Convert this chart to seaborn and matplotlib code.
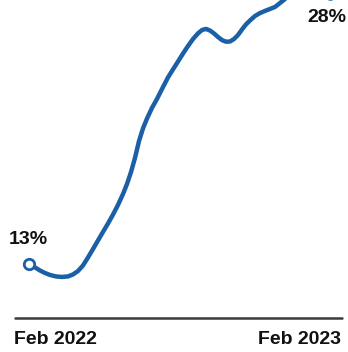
import matplotlib
matplotlib.use("Agg")
import matplotlib.pyplot as plt
import seaborn as sns
import pandas as pd

# Data (days since Feb 2022, share in %)
days = [0, 7.3, 13.3, 19.4, 25.5, 32.7, 40.0, 47.3, 53.4, 59.4, 65.5, 71.5, 77.6,
        83.7, 89.7, 95.8, 101.9, 107.9, 114.0, 118.8, 123.7, 128.5, 133.4, 138.2,
        143.1, 149.1, 155.2, 162.5, 168.5, 174.6, 180.7, 186.7, 192.8, 198.9, 204.9,
        209.8, 214.6, 219.5, 224.3, 229.2, 234.0, 238.9, 243.7, 248.6, 253.4, 258.3,
        263.1, 268.0, 274.1, 280.1, 286.2, 292.3, 298.3, 304.4, 310.4, 316.5, 328.6,
        346.8, 365]
share = [13.00, 12.81, 12.64, 12.50, 12.39, 12.31, 12.28, 12.31, 12.42, 12.61, 12.92,
         13.36, 13.83, 14.31, 14.78, 15.25, 15.75, 16.28, 16.89, 17.44, 18.11, 18.89,
         19.83, 20.53, 21.08, 21.67, 22.17, 22.83, 23.36, 23.81, 24.25, 24.69, 25.11,
         25.50, 25.81, 26.00, 26.06, 25.97, 25.81, 25.61, 25.44, 25.35, 25.36, 25.50,
         25.72, 26.03, 26.31, 26.53, 26.78, 26.94, 27.06, 27.17, 27.28, 27.50, 27.72,
         27.83, 27.92, 27.97, 28.00]
x_labels = ["Feb 2022", "Feb 2023"]
start_label = "13%"
end_label = "28%"
baseline = 10

df = pd.DataFrame({"day": days, "share": share})

sns.set_theme(style="white")
plt.rcParams['font.family'] = ['Liberation Sans', 'DejaVu Sans']

W, H = 348, 352
fig = plt.figure(figsize=(W / 100, H / 100), dpi=100)
ax = fig.add_axes([0, 0, 1, 1])

blue = "#1b5fa7"
sns.lineplot(data=df, x="day", y="share", ax=ax, color=blue, linewidth=3.2,
             solid_capstyle="round", solid_joinstyle="round")
ax.plot([days[0]], [share[0]], marker="o", markersize=7.5, markerfacecolor="white",
        markeredgecolor=blue, markeredgewidth=2.0, linestyle="none", zorder=5)
ax.plot([days[-1]], [share[-1]], marker="o", markersize=7.0, markerfacecolor="white",
        markeredgecolor=blue, markeredgewidth=2.0, linestyle="none", zorder=5)

# pixel mapping: x_px = 29 + day*0.8247 ; y_px = 264 - (v-13)*18
px_per_day = 301 / 365
ax.set_xlim(-29 / px_per_day, (W - 29) / px_per_day)
ax.set_ylim(13 - (H - 264) / 18, 13 + 264 / 18)

ax.axhline(baseline, xmin=15 / W, xmax=342 / W, color="#3c3c3c", linewidth=1.8)

for s in ax.spines.values():
    s.set_visible(False)
ax.set_xticks([])
ax.set_yticks([])
ax.set_xlabel("")
ax.set_ylabel("")

fs = 14
fig.text(14 / W, 1 - 339 / H, x_labels[0], ha="left", va="center", fontsize=fs,
         fontweight="bold", color="#111111")
fig.text(341 / W, 1 - 339 / H, x_labels[1], ha="right", va="center", fontsize=fs,
         fontweight="bold", color="#111111")
fig.text(9 / W, 1 - 239 / H, start_label, ha="left", va="center", fontsize=fs,
         fontweight="bold", color="#111111")
fig.text(346 / W, 1 - 18 / H, end_label, ha="right", va="center", fontsize=fs,
         fontweight="bold", color="#111111")

fig.savefig("out.png", dpi=100)
